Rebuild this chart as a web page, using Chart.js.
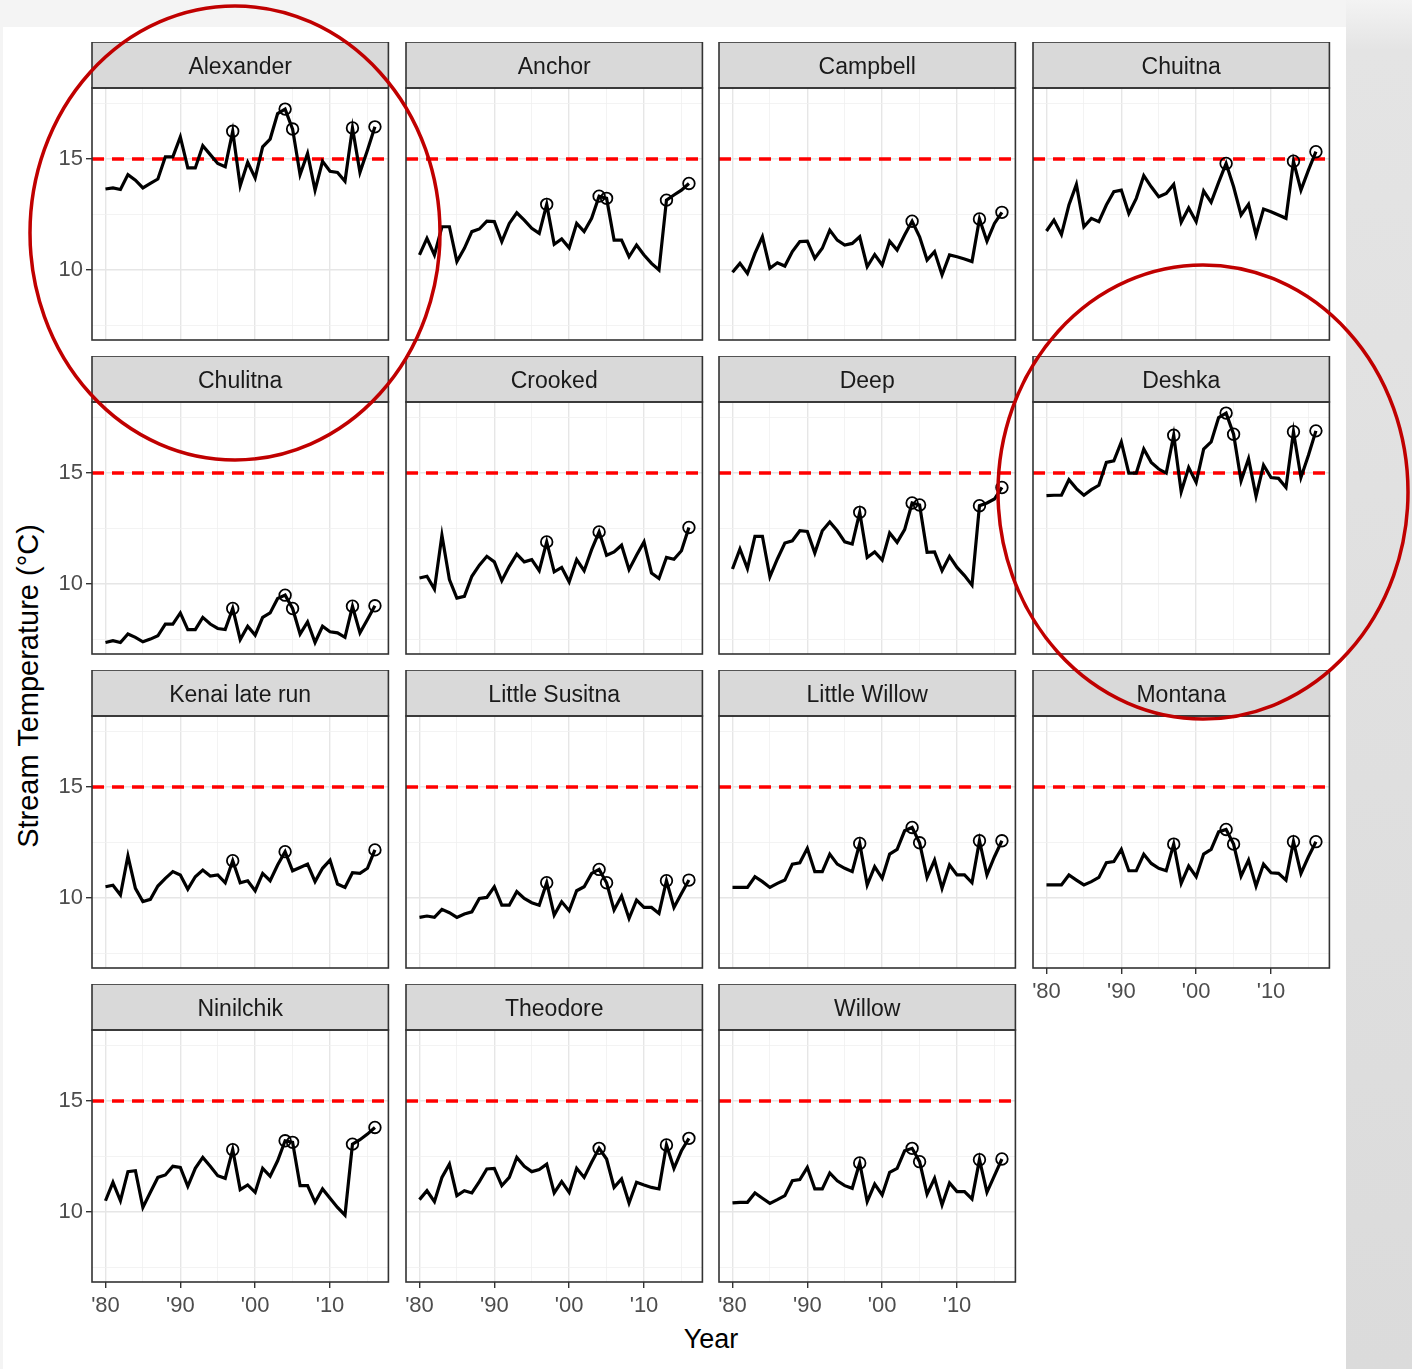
<!DOCTYPE html>
<html>
<head>
<meta charset="utf-8">
<title>Stream temperature by stream</title>
<script src="https://cdn.jsdelivr.net/npm/chart.js@4.4.1/dist/chart.umd.min.js"></script>
<style>
body{margin:0;background:#f4f4f4;width:1412px;height:1369px;position:relative;overflow:hidden;font-family:"Liberation Sans",Arial,sans-serif}
#sheet{position:absolute;left:3px;top:27px;width:1343px;height:1342px;background:#fff}
#side{position:absolute;left:1346px;top:0;width:66px;height:1369px;background:linear-gradient(#f3f3f3 0,#e4e4e4 50px,#dbdbdb 100%)}
canvas{position:absolute}
#ytitle{position:absolute;left:28px;top:686px;transform:translate(-50%,-50%) rotate(-90deg);font-size:29px;white-space:nowrap;color:#000}
#xtitle{position:absolute;left:711px;top:1339px;transform:translate(-50%,-50%);font-size:27px;color:#000}
#marks{position:absolute;left:0;top:0;z-index:5}
</style>
</head>
<body>
<div id="sheet"></div>
<div id="side"></div>
<div id="ytitle">Stream Temperature (°C)</div>
<div id="xtitle">Year</div>

<script>
// ---- data ----
const years = [1980,1981,1982,1983,1984,1985,1986,1987,1988,1989,
  1990,1991,1992,1993,1994,1995,1996,1997,1998,1999,
  2000,2001,2002,2003,2004,2005,2006,2007,2008,2009,
  2010,2011,2012,2013,2014,2015,2016];

const streams = ["Alexander","Anchor","Campbell","Chuitna","Chulitna","Crooked","Deep","Deshka",
  "Kenai late run","Little Susitna","Little Willow","Montana","Ninilchik","Theodore","Willow"];

const alexander = [13.65,13.7,13.63,14.3,14.05,13.7,13.9,14.1,15.1,15.1,
  16.0,14.6,14.6,15.6,15.2,14.8,14.65,16.25,13.8,14.85,
  14.15,15.55,15.9,17.05,17.25,16.35,14.3,15.25,13.6,14.9,
  14.45,14.4,14.0,16.4,14.4,15.4,16.45];
const anchor = [10.68,11.43,10.68,11.95,11.95,10.38,10.98,11.73,11.85,12.2,
  12.18,11.28,12.1,12.58,12.25,11.88,11.65,12.96,11.16,11.4,
  11.0,12.1,11.73,12.33,13.33,13.23,11.35,11.35,10.6,11.13,
  10.68,10.3,10.0,13.15,13.38,13.6,13.9];
const campbell = [9.9,10.3,9.85,10.75,11.5,10.08,10.33,10.18,10.83,11.28,
  11.3,10.53,10.98,11.8,11.35,11.13,11.2,11.5,10.15,10.7,
  10.23,11.3,10.9,11.58,12.2,11.5,10.45,10.83,9.78,10.68,
  10.6,10.5,10.38,12.3,11.3,12.1,12.6];
const chuitna = [11.76,12.25,11.6,12.93,13.86,11.95,12.33,12.18,12.93,13.53,
  13.6,12.55,13.23,14.25,13.75,13.3,13.45,13.86,12.15,12.8,
  12.18,13.56,13.05,13.95,14.8,13.75,12.48,12.96,11.58,12.75,
  12.63,12.48,12.33,14.9,13.6,14.5,15.33];
const chulitna = [7.37,7.45,7.37,7.75,7.6,7.4,7.52,7.67,8.2,8.2,
  8.7,7.95,7.95,8.5,8.2,8.0,7.95,8.9,7.5,8.1,
  7.7,8.5,8.7,9.35,9.5,8.9,7.75,8.3,7.37,8.1,
  7.85,7.8,7.6,9.0,7.8,8.4,9.02];
const crooked = [10.27,10.35,9.77,12.2,10.2,9.37,9.45,10.35,10.85,11.25,
  11.0,10.15,10.8,11.35,11.0,11.1,10.6,11.9,10.55,10.75,
  10.1,11.1,10.6,11.55,12.35,11.3,11.45,11.75,10.65,11.3,
  11.9,10.5,10.25,11.2,11.12,11.5,12.55];
const deep = [10.68,11.58,10.7,12.15,12.15,10.33,11.13,11.85,11.95,12.4,
  12.37,11.4,12.4,12.8,12.4,11.9,11.8,13.23,11.2,11.45,
  11.08,12.3,11.88,12.45,13.65,13.56,11.43,11.45,10.6,11.25,
  10.75,10.38,9.95,13.53,13.65,13.83,14.35];
const deshka = [13.98,14.0,14.0,14.7,14.3,14.0,14.25,14.45,15.48,15.55,
  16.4,15.0,15.0,16.08,15.48,15.18,15.0,16.7,14.16,15.25,
  14.58,16.08,16.4,17.5,17.7,16.75,14.65,15.65,13.95,15.36,
  14.8,14.76,14.35,16.86,14.8,15.8,16.9];
const kenaiLateRun = [10.51,10.58,10.14,11.9,10.44,9.84,9.94,10.54,10.89,11.19,
  11.04,10.4,10.96,11.26,10.99,11.04,10.69,11.68,10.69,10.78,
  10.33,11.11,10.78,11.49,12.09,11.23,11.38,11.53,10.74,11.34,
  11.71,10.63,10.48,11.14,11.11,11.34,12.17];
const littleSusitna = [9.13,9.19,9.13,9.49,9.34,9.13,9.28,9.38,9.98,10.03,
  10.51,9.68,9.68,10.29,9.98,9.79,9.68,10.69,9.23,9.83,
  9.43,10.33,10.51,11.11,11.29,10.69,9.46,10.09,9.08,9.91,
  9.58,9.58,9.31,10.78,9.58,10.21,10.81];
const littleWillow = [10.48,10.48,10.48,10.96,10.74,10.48,10.66,10.81,11.53,11.59,
  12.24,11.19,11.19,11.98,11.53,11.34,11.19,12.46,10.59,11.41,
  10.89,11.98,12.19,13.03,13.18,12.49,10.93,11.71,10.44,11.49,
  11.04,11.04,10.69,12.58,11.04,11.86,12.58];
const montana = [10.59,10.59,10.59,11.04,10.81,10.59,10.74,10.93,11.59,11.64,
  12.19,11.23,11.23,11.97,11.56,11.34,11.23,12.43,10.66,11.44,
  10.96,11.98,12.19,12.98,13.09,12.43,10.99,11.71,10.54,11.53,
  11.14,11.11,10.81,12.54,11.11,11.86,12.54];
const ninilchik = [10.51,11.34,10.51,11.82,11.86,10.21,10.89,11.56,11.67,12.06,
  12.01,11.16,11.97,12.46,12.06,11.64,11.52,12.81,11.01,11.22,
  10.89,11.97,11.61,12.31,13.21,13.14,11.19,11.19,10.44,11.04,
  10.62,10.21,9.86,13.06,13.26,13.51,13.81];
const theodore = [10.56,10.96,10.47,11.56,12.16,10.74,10.96,10.86,11.37,11.94,
  11.97,11.19,11.56,12.46,12.06,11.82,11.91,12.16,10.86,11.37,
  10.89,11.97,11.56,12.24,12.87,12.39,11.11,11.49,10.41,11.34,
  11.22,11.11,11.04,13.02,11.97,12.76,13.32];
const willow = [10.41,10.44,10.44,10.86,10.62,10.39,10.56,10.74,11.41,11.46,
  12.01,11.04,11.04,11.76,11.41,11.19,11.07,12.21,10.47,11.26,
  10.77,11.79,11.97,12.76,12.87,12.27,10.81,11.52,10.32,11.31,
  10.92,10.92,10.59,12.36,10.89,11.64,12.39];

// years drawn with an open circle, per stream
const allMarked = [1997,2004,2005,2013,2016];
const fewMarked = [2004,2013,2016];
const kenaiMarked = [1997,2004,2016];

const seriesList = [alexander,anchor,campbell,chuitna,chulitna,crooked,deep,deshka,
  kenaiLateRun,littleSusitna,littleWillow,montana,ninilchik,theodore,willow];
const markedList = [allMarked,allMarked,fewMarked,fewMarked,allMarked,kenaiMarked,allMarked,allMarked,
  kenaiMarked,allMarked,allMarked,allMarked,allMarked,fewMarked,allMarked];

const threshold = 15;
const xTicks = [1980,1990,2000,2010];
const xTickLabels = ["'80","'90","'00","'10"];
const xMinor = [1985,1995,2005,2015];
const yTicks = [10,15];
const yTickLabels = ["10","15"];
const yMinor = [7.5,12.5,17.5];

// ---- layout ----
const X_MIN = 1978.2, X_MAX = 2017.8, Y_MIN = 6.85, Y_MAX = 18.2;
const PANEL_X = [92,406,719,1033];
const ROW_Y = [42,356,670,984];
const AXIS_W = 50, AXIS_H = 40, STRIP_H = 46, PLOT_W = 297, PLOT_H = 252, PAD_R = 3;
const EXTRA_W = 4; // chart.js keeps a few px on the right, give them back
const FONT = '"Liberation Sans", Arial, sans-serif';

const panelPlugin = {
  id: "panel",
  afterDraw(chart){
    const {ctx, chartArea:a} = chart;
    ctx.save();
    ctx.fillStyle = "#d9d9d9";
    ctx.fillRect(a.left, a.top - STRIP_H, a.width, STRIP_H);
    ctx.strokeStyle = "#333333";
    ctx.lineWidth = 1.6;
    ctx.strokeRect(a.left, a.top - STRIP_H, a.width, STRIP_H);
    ctx.strokeRect(a.left, a.top, a.width, a.height);
    ctx.fillStyle = "#1a1a1a";
    ctx.font = "23px " + FONT;
    ctx.textAlign = "center";
    ctx.textBaseline = "middle";
    ctx.fillText(chart.options.plugins.panel.name, a.left + a.width/2, a.top - STRIP_H/2 + 3);
    ctx.restore();
  }
};

function noPad(s){
  s.paddingLeft = 0; s.paddingRight = 0; s.paddingTop = 0; s.paddingBottom = 0;
}

function makePanel(i){
  const col = i % 4, row = Math.floor(i / 4);
  const cv = document.createElement("canvas");
  cv.width = AXIS_W + PLOT_W + PAD_R + EXTRA_W;
  cv.height = STRIP_H + PLOT_H + AXIS_H;
  cv.style.left = (PANEL_X[col] - AXIS_W) + "px";
  cv.style.top = ROW_Y[row] + "px";
  document.body.appendChild(cv);

  const showX = i >= 11, showY = col === 0;
  const vals = seriesList[i], marked = markedList[i];
  const pts = years.map((yr, k) => ({x: yr, y: vals[k]}));

  new Chart(cv.getContext("2d"), {
    type: "line",
    data: {
      datasets: [
        {data: pts, borderColor: "#000", borderWidth: 3.2, tension: 0,
         pointRadius: c => marked.includes(years[c.dataIndex]) ? 5.8 : 0,
         pointBorderColor: "#000", pointBackgroundColor: "rgba(0,0,0,0)", pointBorderWidth: 1.8},
        {data: [{x: X_MIN, y: threshold}, {x: X_MAX, y: threshold}],
         borderColor: "#ff0000", borderWidth: 3.4, borderDash: [12, 8], pointRadius: 0}
      ]
    },
    options: {
      responsive: false, animation: false, devicePixelRatio: 1, events: [],
      layout: {padding: {top: STRIP_H, right: PAD_R, left: 0, bottom: 0}},
      plugins: {legend: {display: false}, tooltip: {enabled: false}, panel: {name: streams[i]}},
      scales: {
        x: {
          type: "linear", min: X_MIN, max: X_MAX,
          afterBuildTicks: s => { s.ticks = xTicks.concat(xMinor).map(v => ({value: v})); },
          afterFit: s => { s.height = AXIS_H; noPad(s); },
          border: {display: false},
          grid: {
            color: c => xTicks.includes(c.tick.value) ? "#e6e6e6" : "#f0f0f0",
            lineWidth: c => xTicks.includes(c.tick.value) ? 1.4 : 0.8,
            tickLength: 6,
            tickColor: c => showX && xTicks.includes(c.tick.value) ? "#333333" : "rgba(0,0,0,0)",
            tickWidth: 1.4
          },
          ticks: {
            autoSkip: false, maxRotation: 0, padding: 5,
            color: showX ? "#4d4d4d" : "rgba(0,0,0,0)",
            font: {family: FONT, size: 22},
            callback: v => xTicks.includes(v) ? xTickLabels[xTicks.indexOf(v)] : ""
          }
        },
        y: {
          type: "linear", min: Y_MIN, max: Y_MAX,
          afterBuildTicks: s => { s.ticks = yTicks.concat(yMinor).map(v => ({value: v})); },
          afterFit: s => { s.width = AXIS_W; noPad(s); },
          border: {display: false},
          grid: {
            color: c => yTicks.includes(c.tick.value) ? "#e6e6e6" : "#f0f0f0",
            lineWidth: c => yTicks.includes(c.tick.value) ? 1.4 : 0.8,
            tickLength: 6,
            tickColor: c => showY && yTicks.includes(c.tick.value) ? "#333333" : "rgba(0,0,0,0)",
            tickWidth: 1.4
          },
          ticks: {
            autoSkip: false, padding: 3,
            color: showY ? "#4d4d4d" : "rgba(0,0,0,0)",
            font: {family: FONT, size: 22},
            callback: v => yTicks.includes(v) ? yTickLabels[yTicks.indexOf(v)] : ""
          }
        }
      }
    },
    plugins: [panelPlugin]
  });
}

streams.forEach((s, i) => makePanel(i));

// hand-drawn highlight ellipses on top
const svgNS = "http://www.w3.org/2000/svg";
const svg = document.createElementNS(svgNS, "svg");
svg.setAttribute("id", "marks");
svg.setAttribute("width", 1412);
svg.setAttribute("height", 1369);
[[235,233],[1203,492]].forEach(c => {
  const e = document.createElementNS(svgNS, "ellipse");
  e.setAttribute("cx", c[0]); e.setAttribute("cy", c[1]);
  e.setAttribute("rx", 205); e.setAttribute("ry", 227);
  e.setAttribute("fill", "none");
  e.setAttribute("stroke", "#c00000");
  e.setAttribute("stroke-width", 3.5);
  svg.appendChild(e);
});
document.body.appendChild(svg);
</script>
</body>
</html>
